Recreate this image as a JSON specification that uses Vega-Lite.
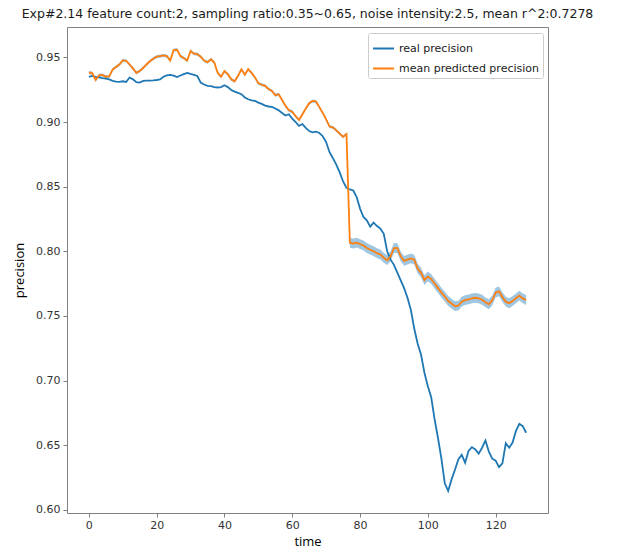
{
  "$schema": "https://vega.github.io/schema/vega-lite/v6.json",
  "autosize": "none",
  "width": 481,
  "height": 486,
  "padding": {"left": 67, "top": 27, "right": 69, "bottom": 36},
  "background": "white",
  "title": {
    "text": "Exp#2.14 feature count:2, sampling ratio:0.35~0.65, noise intensity:2.5, mean r^2:0.7278",
    "font": "DejaVu Sans",
    "fontSize": 12.5,
    "fontWeight": "normal",
    "color": "#1a1a1a",
    "anchor": "middle",
    "offset": 7
  },
  "data": {
    "values": [
      {"t":0,"real precision":0.935,"mean predicted precision":0.9382,"err":0.0012},
      {"t":1,"real precision":0.9356,"mean predicted precision":0.9378,"err":0.0012},
      {"t":2,"real precision":0.935,"mean predicted precision":0.9325,"err":0.0012},
      {"t":3,"real precision":0.9345,"mean predicted precision":0.9361,"err":0.0012},
      {"t":4,"real precision":0.934,"mean predicted precision":0.9364,"err":0.0012},
      {"t":5,"real precision":0.9336,"mean predicted precision":0.935,"err":0.0012},
      {"t":6,"real precision":0.933,"mean predicted precision":0.9352,"err":0.0012},
      {"t":7,"real precision":0.9318,"mean predicted precision":0.9405,"err":0.0012},
      {"t":8,"real precision":0.9312,"mean predicted precision":0.9425,"err":0.0012},
      {"t":9,"real precision":0.931,"mean predicted precision":0.9445,"err":0.0012},
      {"t":10,"real precision":0.9315,"mean predicted precision":0.9477,"err":0.0012},
      {"t":11,"real precision":0.931,"mean predicted precision":0.9474,"err":0.0012},
      {"t":12,"real precision":0.9344,"mean predicted precision":0.9445,"err":0.0012},
      {"t":13,"real precision":0.933,"mean predicted precision":0.9415,"err":0.0012},
      {"t":14,"real precision":0.9308,"mean predicted precision":0.938,"err":0.0012},
      {"t":15,"real precision":0.9305,"mean predicted precision":0.9395,"err":0.0012},
      {"t":16,"real precision":0.9318,"mean predicted precision":0.9418,"err":0.0012},
      {"t":17,"real precision":0.932,"mean predicted precision":0.9445,"err":0.0012},
      {"t":18,"real precision":0.932,"mean predicted precision":0.947,"err":0.0012},
      {"t":19,"real precision":0.9322,"mean predicted precision":0.949,"err":0.0012},
      {"t":20,"real precision":0.9325,"mean predicted precision":0.9505,"err":0.0012},
      {"t":21,"real precision":0.933,"mean predicted precision":0.951,"err":0.0012},
      {"t":22,"real precision":0.935,"mean predicted precision":0.9515,"err":0.0012},
      {"t":23,"real precision":0.936,"mean predicted precision":0.951,"err":0.0012},
      {"t":24,"real precision":0.9364,"mean predicted precision":0.9475,"err":0.0012},
      {"t":25,"real precision":0.9358,"mean predicted precision":0.9556,"err":0.0012},
      {"t":26,"real precision":0.9348,"mean predicted precision":0.956,"err":0.0012},
      {"t":27,"real precision":0.936,"mean predicted precision":0.951,"err":0.0012},
      {"t":28,"real precision":0.937,"mean predicted precision":0.9495,"err":0.0012},
      {"t":29,"real precision":0.938,"mean predicted precision":0.9475,"err":0.0012},
      {"t":30,"real precision":0.9372,"mean predicted precision":0.9549,"err":0.0012},
      {"t":31,"real precision":0.9365,"mean predicted precision":0.9528,"err":0.0012},
      {"t":32,"real precision":0.9356,"mean predicted precision":0.9525,"err":0.0012},
      {"t":33,"real precision":0.9305,"mean predicted precision":0.9505,"err":0.0012},
      {"t":34,"real precision":0.929,"mean predicted precision":0.9475,"err":0.0012},
      {"t":35,"real precision":0.928,"mean predicted precision":0.9462,"err":0.0012},
      {"t":36,"real precision":0.9278,"mean predicted precision":0.9485,"err":0.0012},
      {"t":37,"real precision":0.927,"mean predicted precision":0.946,"err":0.0012},
      {"t":38,"real precision":0.9267,"mean predicted precision":0.938,"err":0.0012},
      {"t":39,"real precision":0.927,"mean predicted precision":0.935,"err":0.0012},
      {"t":40,"real precision":0.9284,"mean predicted precision":0.9394,"err":0.0012},
      {"t":41,"real precision":0.927,"mean predicted precision":0.937,"err":0.0012},
      {"t":42,"real precision":0.9248,"mean predicted precision":0.933,"err":0.0012},
      {"t":43,"real precision":0.9235,"mean predicted precision":0.9315,"err":0.0012},
      {"t":44,"real precision":0.9225,"mean predicted precision":0.9356,"err":0.0012},
      {"t":45,"real precision":0.9215,"mean predicted precision":0.9408,"err":0.0012},
      {"t":46,"real precision":0.919,"mean predicted precision":0.9366,"err":0.0012},
      {"t":47,"real precision":0.9176,"mean predicted precision":0.9408,"err":0.0012},
      {"t":48,"real precision":0.9168,"mean predicted precision":0.938,"err":0.0012},
      {"t":49,"real precision":0.9163,"mean predicted precision":0.9345,"err":0.0012},
      {"t":50,"real precision":0.915,"mean predicted precision":0.93,"err":0.0012},
      {"t":51,"real precision":0.914,"mean predicted precision":0.9288,"err":0.0012},
      {"t":52,"real precision":0.9127,"mean predicted precision":0.928,"err":0.0012},
      {"t":53,"real precision":0.912,"mean predicted precision":0.9255,"err":0.0012},
      {"t":54,"real precision":0.9117,"mean predicted precision":0.924,"err":0.0012},
      {"t":55,"real precision":0.9105,"mean predicted precision":0.9208,"err":0.0012},
      {"t":56,"real precision":0.909,"mean predicted precision":0.9215,"err":0.0012},
      {"t":57,"real precision":0.907,"mean predicted precision":0.917,"err":0.0012},
      {"t":58,"real precision":0.905,"mean predicted precision":0.9125,"err":0.0012},
      {"t":59,"real precision":0.906,"mean predicted precision":0.909,"err":0.0012},
      {"t":60,"real precision":0.9025,"mean predicted precision":0.908,"err":0.0012},
      {"t":61,"real precision":0.9,"mean predicted precision":0.9045,"err":0.0012},
      {"t":62,"real precision":0.897,"mean predicted precision":0.9015,"err":0.0012},
      {"t":63,"real precision":0.8984,"mean predicted precision":0.906,"err":0.0012},
      {"t":64,"real precision":0.8955,"mean predicted precision":0.9105,"err":0.0012},
      {"t":65,"real precision":0.893,"mean predicted precision":0.9145,"err":0.0012},
      {"t":66,"real precision":0.892,"mean predicted precision":0.9163,"err":0.0012},
      {"t":67,"real precision":0.8925,"mean predicted precision":0.9158,"err":0.0012},
      {"t":68,"real precision":0.8915,"mean predicted precision":0.9115,"err":0.0012},
      {"t":69,"real precision":0.889,"mean predicted precision":0.907,"err":0.0012},
      {"t":70,"real precision":0.8845,"mean predicted precision":0.902,"err":0.0012},
      {"t":71,"real precision":0.8766,"mean predicted precision":0.8965,"err":0.0012},
      {"t":72,"real precision":0.872,"mean predicted precision":0.8958,"err":0.0012},
      {"t":73,"real precision":0.867,"mean predicted precision":0.8935,"err":0.0012},
      {"t":74,"real precision":0.861,"mean predicted precision":0.891,"err":0.0012},
      {"t":75,"real precision":0.854,"mean predicted precision":0.8885,"err":0.0012},
      {"t":76,"real precision":0.849,"mean predicted precision":0.8907,"err":0.0012},
      {"t":77,"real precision":0.8478,"mean predicted precision":0.8065,"err":0.0038},
      {"t":78,"real precision":0.847,"mean predicted precision":0.806,"err":0.0038},
      {"t":79,"real precision":0.842,"mean predicted precision":0.8067,"err":0.0038},
      {"t":80,"real precision":0.833,"mean predicted precision":0.8055,"err":0.0038},
      {"t":81,"real precision":0.8265,"mean predicted precision":0.8045,"err":0.0038},
      {"t":82,"real precision":0.8239,"mean predicted precision":0.8025,"err":0.0038},
      {"t":83,"real precision":0.819,"mean predicted precision":0.8012,"err":0.0038},
      {"t":84,"real precision":0.8221,"mean predicted precision":0.8,"err":0.0038},
      {"t":85,"real precision":0.8195,"mean predicted precision":0.7985,"err":0.0038},
      {"t":86,"real precision":0.8175,"mean predicted precision":0.7975,"err":0.0038},
      {"t":87,"real precision":0.8135,"mean predicted precision":0.795,"err":0.0038},
      {"t":88,"real precision":0.8,"mean predicted precision":0.7931,"err":0.0038},
      {"t":89,"real precision":0.7935,"mean predicted precision":0.796,"err":0.0038},
      {"t":90,"real precision":0.7895,"mean predicted precision":0.8025,"err":0.0038},
      {"t":91,"real precision":0.7835,"mean predicted precision":0.8025,"err":0.0038},
      {"t":92,"real precision":0.7775,"mean predicted precision":0.796,"err":0.0038},
      {"t":93,"real precision":0.7715,"mean predicted precision":0.7925,"err":0.0038},
      {"t":94,"real precision":0.764,"mean predicted precision":0.7935,"err":0.0038},
      {"t":95,"real precision":0.7545,"mean predicted precision":0.7945,"err":0.0038},
      {"t":96,"real precision":0.74,"mean predicted precision":0.7935,"err":0.0038},
      {"t":97,"real precision":0.7285,"mean predicted precision":0.7865,"err":0.0038},
      {"t":98,"real precision":0.7199,"mean predicted precision":0.7835,"err":0.0038},
      {"t":99,"real precision":0.706,"mean predicted precision":0.7777,"err":0.0038},
      {"t":100,"real precision":0.6955,"mean predicted precision":0.7805,"err":0.0038},
      {"t":101,"real precision":0.687,"mean predicted precision":0.7785,"err":0.0038},
      {"t":102,"real precision":0.67,"mean predicted precision":0.775,"err":0.0038},
      {"t":103,"real precision":0.6555,"mean predicted precision":0.7715,"err":0.0038},
      {"t":104,"real precision":0.6395,"mean predicted precision":0.768,"err":0.0038},
      {"t":105,"real precision":0.6205,"mean predicted precision":0.765,"err":0.0038},
      {"t":106,"real precision":0.6146,"mean predicted precision":0.7615,"err":0.0038},
      {"t":107,"real precision":0.6235,"mean predicted precision":0.7595,"err":0.0038},
      {"t":108,"real precision":0.631,"mean predicted precision":0.7575,"err":0.0038},
      {"t":109,"real precision":0.639,"mean predicted precision":0.758,"err":0.0038},
      {"t":110,"real precision":0.6425,"mean predicted precision":0.761,"err":0.0038},
      {"t":111,"real precision":0.6364,"mean predicted precision":0.7622,"err":0.0038},
      {"t":112,"real precision":0.6455,"mean predicted precision":0.7628,"err":0.0038},
      {"t":113,"real precision":0.6485,"mean predicted precision":0.7635,"err":0.0038},
      {"t":114,"real precision":0.6467,"mean predicted precision":0.764,"err":0.0038},
      {"t":115,"real precision":0.6434,"mean predicted precision":0.7635,"err":0.0038},
      {"t":116,"real precision":0.648,"mean predicted precision":0.7625,"err":0.0038},
      {"t":117,"real precision":0.6536,"mean predicted precision":0.7605,"err":0.0038},
      {"t":118,"real precision":0.645,"mean predicted precision":0.759,"err":0.0038},
      {"t":119,"real precision":0.6395,"mean predicted precision":0.762,"err":0.0038},
      {"t":120,"real precision":0.638,"mean predicted precision":0.768,"err":0.0038},
      {"t":121,"real precision":0.633,"mean predicted precision":0.769,"err":0.0038},
      {"t":122,"real precision":0.636,"mean predicted precision":0.7645,"err":0.0038},
      {"t":123,"real precision":0.6515,"mean predicted precision":0.761,"err":0.0038},
      {"t":124,"real precision":0.648,"mean predicted precision":0.7598,"err":0.0038},
      {"t":125,"real precision":0.652,"mean predicted precision":0.7615,"err":0.0038},
      {"t":126,"real precision":0.661,"mean predicted precision":0.7636,"err":0.0038},
      {"t":127,"real precision":0.6665,"mean predicted precision":0.7657,"err":0.0038},
      {"t":128,"real precision":0.6647,"mean predicted precision":0.7635,"err":0.0038},
      {"t":129,"real precision":0.6596,"mean predicted precision":0.7623,"err":0.0038}
    ]
  },
  "layer": [
    {
      "mark": {"type": "errorband", "color": "#1f77b4", "opacity": 0.42},
      "encoding": {
        "x": {"field": "t", "type": "quantitative", "title": "time", "scale": {"domain": [-6.45, 135.45], "nice": false, "zero": false}},
        "y": {"field": "mean predicted precision", "type": "quantitative", "title": "precision", "scale": {"domain": [0.5975, 0.9735], "nice": false, "zero": false}},
        "yError": {"field": "err"}
      }
    },
    {
      "transform": [{"fold": ["real precision", "mean predicted precision"], "as": ["series", "value"]}],
      "mark": {"type": "line", "strokeWidth": 1.8, "clip": true},
      "encoding": {
        "x": {"field": "t", "type": "quantitative", "title": "time",
              "axis": {"values": [0, 20, 40, 60, 80, 100, 120], "labelPadding": 2, "titleY": 32, "titleBaseline": "alphabetic"}},
        "y": {"field": "value", "type": "quantitative", "title": "precision",
              "axis": {"values": [0.6, 0.65, 0.7, 0.75, 0.8, 0.85, 0.9, 0.95], "format": ".2f"}},
        "color": {
          "field": "series", "type": "nominal",
          "scale": {"domain": ["real precision", "mean predicted precision"], "range": ["#1f77b4", "#ff7f0e"]},
          "sort": ["real precision", "mean predicted precision"],
          "legend": {
            "title": null,
            "orient": "none",
            "legendX": 301,
            "legendY": 6,
            "symbolType": "stroke",
            "symbolSize": 440,
            "symbolStrokeWidth": 2,
            "labelFont": "DejaVu Sans",
            "labelFontSize": 11,
            "labelColor": "#1a1a1a",
            "fillColor": "white",
            "strokeColor": "#cccccc",
            "padding": 4,
            "rowPadding": 3,
            "cornerRadius": 2
          }
        }
      }
    }
  ],
  "config": {
    "view": {"stroke": "#808080", "strokeWidth": 1},
    "axis": {
      "domain": false,
      "grid": false,
      "tickColor": "#808080",
      "tickSize": 4,
      "labelFont": "DejaVu Sans",
      "labelFontSize": 11,
      "labelColor": "#333333",
      "labelPadding": 3,
      "titleFont": "Open Sans",
      "titleFontSize": 13,
      "titleFontWeight": "normal",
      "titleColor": "#000000"
    },
    "axisY": {"titlePadding": 9}
  }
}
